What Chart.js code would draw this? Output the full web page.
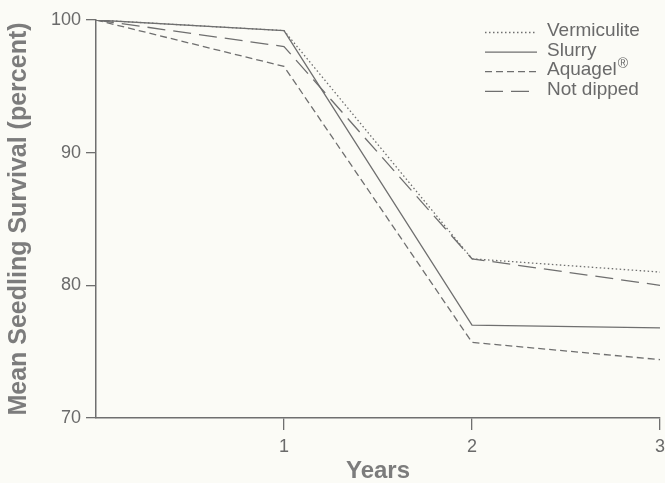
<!DOCTYPE html>
<html>
<head>
<meta charset="utf-8">
<script src="https://cdn.jsdelivr.net/npm/chart.js@4/dist/chart.umd.min.js"></script>
<style>
  html, body { margin: 0; padding: 0; background: #fbfbf6; }
  #wrap { width: 665px; height: 483px; position: relative; }
</style>
</head>
<body>
<div id="wrap"><canvas id="grafico"></canvas></div>
<script>
// Datos
const years = [0, 1, 2, 3];
const vermiculite = [100, 99.2, 82.0, 81.0];
const slurry = [100, 99.2, 77.0, 76.8];
const aquagel = [100, 96.5, 75.7, 74.4];
const notDipped = [100, 98.0, 82.0, 80.0];
const yTicks = [70, 80, 90, 100];
const xTicks = [1, 2, 3];

const lineColor = "#6f6f6f";
const textColor = "#6a6a6a";
const fuente = "'Liberation Sans', Arial, sans-serif";

function serie(label, values, dash) {
    return {
        label: label,
        data: years.map((x, i) => ({ x: x, y: values[i] })),
        borderColor: lineColor,
        borderWidth: 1.3,
        borderDash: dash,
        pointRadius: 0,
        tension: 0,
        fill: false
    };
}

// Leyenda dibujada dentro del area del grafico (arriba a la derecha)
const leyenda = {
    id: "leyenda",
    afterDraw(chart) {
        const ctx = chart.ctx;
        ctx.save();
        chart.data.datasets.forEach((ds, i) => {
            const y = 31 + i * 19.6;
            ctx.strokeStyle = ds.borderColor;
            ctx.lineWidth = ds.borderWidth;
            ctx.setLineDash(ds.borderDash || []);
            ctx.beginPath();
            ctx.moveTo(485, y + 1.5);
            ctx.lineTo(537, y + 1.5);
            ctx.stroke();
            ctx.setLineDash([]);
            ctx.fillStyle = textColor;
            ctx.textBaseline = "middle";
            ctx.font = "19px " + fuente;
            let txt = ds.label;
            const sup = txt.endsWith("®");
            if (sup) txt = txt.slice(0, -1);
            ctx.fillText(txt, 547, y);
            if (sup) {
                const w = ctx.measureText(txt).width;
                ctx.font = "14px " + fuente;
                ctx.fillText("®", 547 + w + 1, y - 6);
            }
        });
        ctx.restore();
    }
};

const ctx = document.getElementById("grafico").getContext("2d");
new Chart(ctx, {
    type: "line",
    data: {
        datasets: [
            serie("Vermiculite", vermiculite, [1.5, 2.5]),
            serie("Slurry", slurry, []),
            serie("Aquagel®", aquagel, [7, 4]),
            serie("Not dipped", notDipped, [18, 8])
        ]
    },
    options: {
        responsive: true,
        maintainAspectRatio: false,
        animation: false,
        layout: { padding: { top: 20, right: 5, left: 0, bottom: 0 } },
        plugins: {
            legend: { display: false },
            tooltip: { enabled: false }
        },
        scales: {
            x: {
                type: "linear",
                min: 0,
                max: 3,
                afterBuildTicks: s => { s.ticks = xTicks.map(v => ({ value: v })); },
                afterFit: s => { s.height = 65; s.paddingLeft = 0; s.paddingRight = 0; },
                grid: {
                    drawOnChartArea: false,
                    tickLength: 12,
                    tickColor: lineColor,
                    lineWidth: 1.3
                },
                border: { color: lineColor, width: 1.5 },
                ticks: {
                    color: textColor,
                    padding: 6,
                    maxRotation: 0,
                    font: { family: fuente, size: 18 }
                },
                title: {
                    display: true,
                    text: "Years",
                    color: "#7c7c7c",
                    padding: { top: 0, bottom: -3 },
                    font: { family: fuente, size: 24, weight: "bold" }
                }
            },
            y: {
                min: 70,
                max: 100,
                afterBuildTicks: s => { s.ticks = yTicks.map(v => ({ value: v })); },
                afterFit: s => { s.width = 96; s.paddingTop = 0; s.paddingBottom = 0; },
                grid: {
                    drawOnChartArea: false,
                    tickLength: 10,
                    tickColor: lineColor,
                    lineWidth: 1.3
                },
                border: { color: lineColor, width: 1.5 },
                ticks: {
                    color: textColor,
                    padding: 5,
                    font: { family: fuente, size: 18 }
                },
                title: {
                    display: true,
                    text: "Mean Seedling Survival (percent)",
                    color: "#7c7c7c",
                    padding: { top: 4, bottom: 0 },
                    font: { family: fuente, size: 25, weight: "bold" }
                }
            }
        }
    },
    plugins: [leyenda]
});
</script>
</body>
</html>
